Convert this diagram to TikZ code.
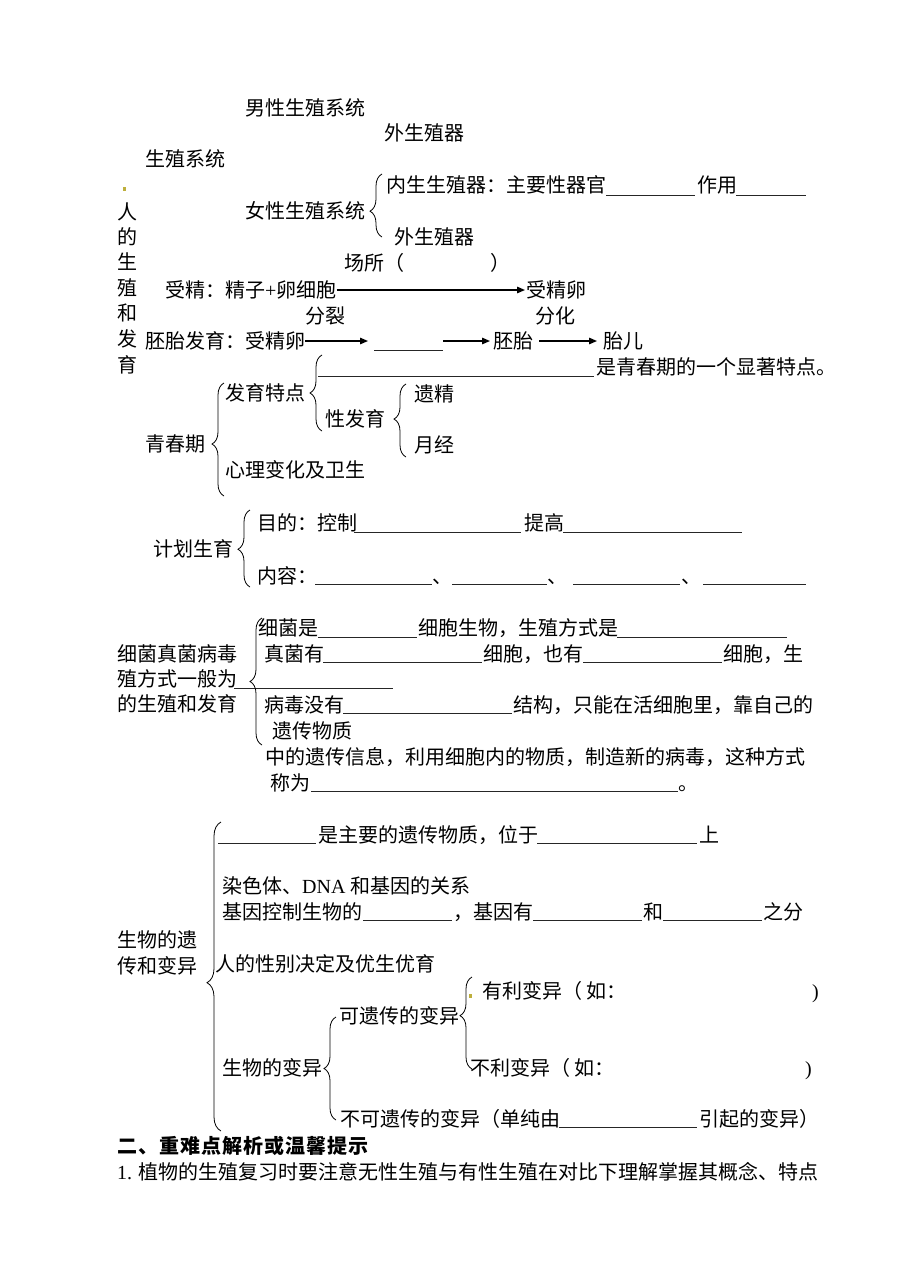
\documentclass[tikz,border=0pt]{standalone}
\usepackage{fontspec}
\setmainfont{Noto Sans CJK SC}
\newfontfamily\lat{Liberation Serif}
\usetikzlibrary{arrows.meta,decorations.pathreplacing}
\newcommand\T[4]{\node[txt] (#1) at (#2,#3) {#4};}
\newcommand\U[3]{\draw[ul] (#1,#3) -- (#2,#3);}
\begin{document}
\begin{tikzpicture}[x=1pt,y=-1pt,
  txt/.style={anchor=west,inner sep=0pt,text height=15pt,text depth=0pt,font=\fontsize{20}{20}\selectfont},
  ul/.style={line width=0.7pt,black!85},
  arr/.style={line width=1.4pt,-{Triangle[length=8pt,width=6.5pt]}},
  brc/.style={decorate,decoration={brace,amplitude=12pt},line width=0.8pt}]
\useasboundingbox[fill=white] (0,0) rectangle (920,1274);
\definecolor{dotc}{RGB}{190,175,60}
\fill[dotc] (123,187) rectangle (126,191);
\fill[dotc] (469,994) rectangle (472,998);

% ---- section 1
\T{male}{245}{108}{男性生殖系统}
\T{maleext}{384}{133}{外生殖器}
\T{repsys}{145}{159}{生殖系统}
\T{v1}{117}{212}{人}
\T{v2}{117}{237}{的}
\T{v3}{117}{262}{生}
\T{v4}{117}{288}{殖}
\T{v5}{117}{313}{和}
\T{v6}{117}{339}{发}
\T{v7}{117}{365}{育}
\T{female}{245}{211}{女性生殖系统}
\draw[decorate,decoration={brace,amplitude=12pt,aspect=0.41},line width=0.8pt] (382,237) -- (382,174);
\T{inner}{386}{185}{内生生殖器：主要性器官}
\U{606}{695}{195}
\T{zuoyong}{697}{185}{作用}
\U{736}{806}{195}
\T{femext}{394}{237}{外生殖器}
\T{place}{344}{263}{场所（}
\T{placer}{490}{263}{）}
\T{fert}{165}{290}{受精：精子{\lat+}卵细胞}
\T{zyg}{526}{290}{受精卵}
\draw[arr,shorten >=1pt] (fert.east) -- (zyg.west);
\T{fenlie}{305}{316}{分裂}
\T{fenhua}{535}{316}{分化}
\T{emb}{145}{341}{胚胎发育：受精卵}
\node[txt,minimum width=69pt] (blank) at (374,341) {};
\U{374}{443}{350}
\T{peitai}{493}{341}{胚胎}
\T{taier}{603}{341}{胎儿}
\draw[arr,shorten >=6pt] (emb.east) -- (blank.west);
\draw[arr,shorten >=3pt] (blank.east) -- (peitai.west);
\draw[arr,shorten <=6pt,shorten >=6pt] (peitai.east) -- (taier.west);

% ---- puberty
\draw[decorate,decoration={brace,amplitude=12pt,aspect=0.5},line width=0.8pt] (322,431) -- (322,355);
\U{318}{594}{376}
\T{feat}{596}{367}{是青春期的一个显著特点。}
\T{fayu}{225}{393}{发育特点}
\draw[decorate,decoration={brace,amplitude=12pt,aspect=0.52},line width=0.8pt] (406,457) -- (406,384);
\T{yijing}{414}{394}{遗精}
\T{xingfayu}{325}{419}{性发育}
\T{yuejing}{414}{445}{月经}
\draw[decorate,decoration={brace,amplitude=12pt,aspect=0.46},line width=0.8pt] (224,496) -- (224,383);
\T{qcq}{145}{444}{青春期}
\T{xinli}{225}{470}{心理变化及卫生}

% ---- family planning
\draw[decorate,decoration={brace,amplitude=12pt,aspect=0.49},line width=0.8pt] (250,587) -- (250,510);
\T{mudi}{257}{523}{目的：控制}
\U{354}{521}{532}
\T{tigao}{524}{523}{提高}
\U{563}{742}{532}
\T{jhsy}{153}{549}{计划生育}
\T{neirong}{257}{576}{内容：}
\U{315}{432}{584}
\T{d1}{432}{576}{、}
\U{452}{547}{584}
\T{d2}{547}{576}{、}
\U{573}{680}{584}
\T{d3}{681}{576}{、}
\U{703}{806}{584}

% ---- microbes
\T{m1}{117}{654}{细菌真菌病毒}
\T{m2}{117}{679}{殖方式一般为}
\U{234}{393}{688}
\T{m3}{117}{704}{的生殖和发育}
\draw[decorate,decoration={brace,amplitude=12pt,aspect=0.5},line width=0.8pt] (262,745) -- (262,618);
\T{b1}{258}{628}{细菌是}
\U{318}{417}{637}
\T{b2}{418}{628}{细胞生物，生殖方式是}
\U{617}{787}{637}
\T{f1}{264}{654}{真菌有}
\U{323}{482}{662}
\T{f2}{483}{654}{细胞，也有}
\U{583}{722}{662}
\T{f3}{723}{654}{细胞，生}
\T{vi1}{264}{705}{病毒没有}
\U{343}{512}{713}
\T{vi2}{513}{705}{结构，只能在活细胞里，靠自己的}
\T{vi3}{272}{731}{遗传物质}
\T{vi4}{265}{757}{中的遗传信息，利用细胞内的物质，制造新的病毒，这种方式}
\T{vi5}{270}{783}{称为}
\U{311}{678}{791}
\T{vi6}{678}{783}{。}

% ---- heredity
\draw[decorate,decoration={brace,amplitude=14pt,aspect=0.48},line width=0.8pt] (221,1131) -- (221,822);
\T{h1}{117}{940}{生物的遗}
\T{h2}{117}{966}{传和变异}
\U{218}{316}{843}
\T{g1}{318}{835}{是主要的遗传物质，位于}
\U{537}{697}{843}
\T{g2}{699}{835}{上}
\T{g3}{222}{886}{染色体、{\lat DNA} 和基因的关系}
\T{g4}{222}{912}{基因控制生物的}
\U{363}{452}{920}
\T{g5}{453}{912}{，基因有}
\U{533}{642}{920}
\T{g6}{643}{912}{和}
\U{663}{762}{920}
\T{g7}{763}{912}{之分}
\T{sex}{215}{964}{人的性别决定及优生优育}
\T{good}{482}{991}{有利变异（\hspace{4pt}如：}
\T{goodr}{812}{991}{\lat )}
\T{herit}{339}{1016}{可遗传的变异}
\draw[decorate,decoration={brace,amplitude=12pt,aspect=0.58},line width=0.8pt] (472,1069) -- (472,977);
\T{var}{222}{1068}{生物的变异}
\draw[decorate,decoration={brace,amplitude=12pt,aspect=0.5},line width=0.8pt] (336,1120) -- (336,1017);
\T{bad}{470}{1068}{不利变异（\hspace{4pt}如：}
\T{badr}{805}{1068}{\lat )}
\T{nonh}{340}{1119}{不可遗传的变异（单纯由}
\U{559}{697}{1127}
\T{nonh2}{699}{1119}{引起的变异）}

% ---- footer
\T{title}{117}{1146}{\bfseries\addfontfeature{LetterSpace=5}二、重难点解析或温馨提示}
\T{p1}{117}{1172}{{\lat 1. }植物的生殖复习时要注意无性生殖与有性生殖在对比下理解掌握其概念、特点}
\end{tikzpicture}
\end{document}
